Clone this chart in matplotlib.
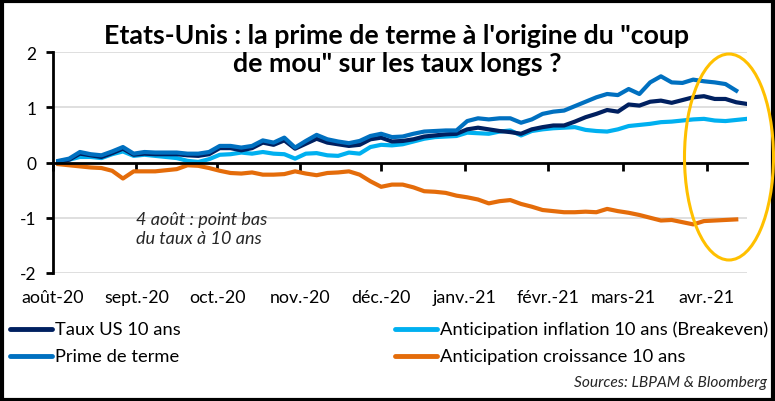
import matplotlib
matplotlib.use("Agg")
import matplotlib.pyplot as plt
import matplotlib.dates as mdates
from matplotlib.patches import Ellipse, Rectangle
from matplotlib.lines import Line2D
import pandas as pd
import numpy as np

plt.rcParams['font.family'] = ['Lato', 'DejaVu Sans']

# ---- data (one reading every 4 days from 3 Aug 2020) ----
taux_us = [0.02, 0.05, 0.16, 0.13, 0.10, 0.17, 0.25, 0.14, 0.16, 0.15,
           0.15, 0.15, 0.13, 0.12, 0.15, 0.26, 0.26, 0.22, 0.26, 0.36,
           0.32, 0.40, 0.25, 0.34, 0.43, 0.36, 0.33, 0.30, 0.32, 0.42,
           0.45, 0.38, 0.39, 0.42, 0.47, 0.49, 0.51, 0.52, 0.60, 0.63,
           0.60, 0.57, 0.55, 0.52, 0.60, 0.64, 0.67, 0.67, 0.74, 0.82,
           0.88, 0.95, 0.92, 1.05, 1.03, 1.10, 1.12, 1.08, 1.13, 1.18,
           1.20, 1.15, 1.15, 1.09, 1.06]
prime_terme = [0.03, 0.07, 0.19, 0.15, 0.13, 0.20, 0.28, 0.16, 0.19, 0.18,
               0.18, 0.18, 0.16, 0.16, 0.19, 0.30, 0.30, 0.27, 0.30, 0.40,
               0.36, 0.45, 0.27, 0.39, 0.50, 0.42, 0.38, 0.35, 0.39, 0.48,
               0.52, 0.46, 0.47, 0.52, 0.56, 0.57, 0.58, 0.58, 0.75, 0.80,
               0.78, 0.80, 0.80, 0.72, 0.78, 0.88, 0.92, 0.94, 1.02, 1.10,
               1.18, 1.24, 1.22, 1.33, 1.24, 1.45, 1.56, 1.45, 1.44, 1.50,
               1.47, 1.45, 1.42, 1.30]
breakeven = [0.01, 0.05, 0.10, 0.10, 0.08, 0.15, 0.20, 0.12, 0.14, 0.12,
             0.10, 0.08, 0.03, 0.01, 0.06, 0.14, 0.15, 0.18, 0.16, 0.19,
             0.16, 0.15, 0.07, 0.16, 0.17, 0.13, 0.12, 0.18, 0.16, 0.28,
             0.32, 0.31, 0.33, 0.38, 0.43, 0.46, 0.47, 0.48, 0.54, 0.53,
             0.52, 0.56, 0.58, 0.49, 0.57, 0.60, 0.62, 0.63, 0.64, 0.59,
             0.57, 0.56, 0.60, 0.66, 0.68, 0.70, 0.73, 0.74, 0.76, 0.78,
             0.79, 0.76, 0.75, 0.77, 0.79]
croissance = [-0.03, -0.05, -0.07, -0.09, -0.10, -0.15, -0.29, -0.16, -0.16, -0.16,
              -0.14, -0.12, -0.05, -0.06, -0.10, -0.15, -0.19, -0.20, -0.18, -0.22,
              -0.22, -0.21, -0.16, -0.20, -0.23, -0.19, -0.18, -0.16, -0.22, -0.34,
              -0.44, -0.40, -0.40, -0.45, -0.52, -0.53, -0.55, -0.60, -0.63, -0.67,
              -0.74, -0.70, -0.68, -0.75, -0.80, -0.86, -0.88, -0.90, -0.90, -0.89,
              -0.90, -0.84, -0.88, -0.91, -0.95, -1.00, -1.05, -1.04, -1.08, -1.12,
              -1.06, -1.05, -1.04, -1.03]

dates = pd.date_range("2020-08-03", periods=len(taux_us), freq="4D")

month_ticks = pd.date_range("2020-08-01", "2021-04-01", freq="MS")
month_labels = ["août-20", "sept.-20", "oct.-20", "nov.-20", "déc.-20",
                "janv.-21", "févr.-21", "mars-21", "avr.-21"]

series_names = ["Taux US 10 ans", "Prime de terme",
                "Anticipation inflation 10 ans (Breakeven)",
                "Anticipation croissance 10 ans"]
colors = ["#002060", "#0070C0", "#00B0F0", "#E46C0A"]

W, H = 775, 402
fig = plt.figure(figsize=(W / 100, H / 100), dpi=100)
fig.patch.set_facecolor("white")

ax = fig.add_axes([53 / W, 1 - 274 / H, (747 - 53) / W, (274 - 53) / H])
ax.set_ylim(-2, 2)
ax.set_xlim(pd.Timestamp("2020-08-01"), pd.Timestamp("2021-04-16"))

for y in [-2, -1, 1, 2]:
    ax.axhline(y, color="#D9D9D9", lw=1.2, zorder=0)

lw = 3.0
ax.plot(dates[:len(croissance)], croissance, color=colors[3], lw=lw, zorder=3)
ax.plot(dates, breakeven, color=colors[2], lw=lw, zorder=3)
ax.plot(dates, taux_us, color=colors[0], lw=lw, zorder=4)
ax.plot(dates[:len(prime_terme)], prime_terme, color=colors[1], lw=lw, zorder=4)

for s in ["top", "right"]:
    ax.spines[s].set_visible(False)
ax.spines["left"].set_linewidth(2)
ax.spines["bottom"].set_linewidth(2)
ax.spines["bottom"].set_position(("data", 0))
ax.spines["bottom"].set_zorder(5)

ax.set_yticks([-2, -1, 0, 1, 2])
ax.set_yticklabels(["-2", "-1", "0", "1", "2"])
ax.tick_params(axis="y", direction="out", length=5, width=2, pad=7,
               labelsize=12.5, colors="black")
ax.set_xticks(month_ticks)
ax.set_xticklabels([])
ax.tick_params(axis="x", direction="out", length=6, width=2)

xt = ax.get_xaxis_transform()
for d, lab in zip(month_ticks, month_labels):
    ax.text(d, -0.11, lab, transform=xt, ha="center", va="center", fontsize=12.8)

ax.text(pd.Timestamp("2020-09-01"), -1.2, "4 août : point bas\ndu taux à 10 ans",
        ha="left", va="center", fontsize=13, style="italic", color="#262626",
        linespacing=1.25)

fig.text(397 / W, 1 - 50 / H, "Etats-Unis : la prime de terme à l'origine du \"coup\nde mou\" sur les taux longs ?",
         ha="center", va="center", fontsize=19.3, fontweight="bold", linespacing=1.18)

# legend
leg_rows = [330, 357]
leg_cols = [(10, 52, 55), (395, 437, 440)]
order = [(0, 0, 0), (1, 1, 0), (2, 0, 1), (3, 1, 1)]
for idx, r, c in order:
    x0, x1, xt0 = leg_cols[c]
    yy = 1 - leg_rows[r] / H
    fig.add_artist(Line2D([x0 / W, x1 / W], [yy, yy], transform=fig.transFigure,
                          color=colors[idx], lw=3.5, solid_capstyle="round"))
    fig.text(xt0 / W, yy, series_names[idx], ha="left", va="center", fontsize=13.2)

fig.text(767 / W, 1 - 383 / H, "Sources: LBPAM & Bloomberg", ha="right", va="center",
         fontsize=11.2, style="italic", color="#262626")

fig.add_artist(Ellipse((729 / W, 1 - 158 / H), 89 / W, 206 / H, transform=fig.transFigure,
                       fill=False, edgecolor="#FFC000", lw=2.2, zorder=10))

fig.add_artist(Rectangle((0.002, 0.003), 0.995, 0.993, transform=fig.transFigure,
                         fill=False, edgecolor="black", lw=3))

fig.savefig("out.png", dpi=100)
